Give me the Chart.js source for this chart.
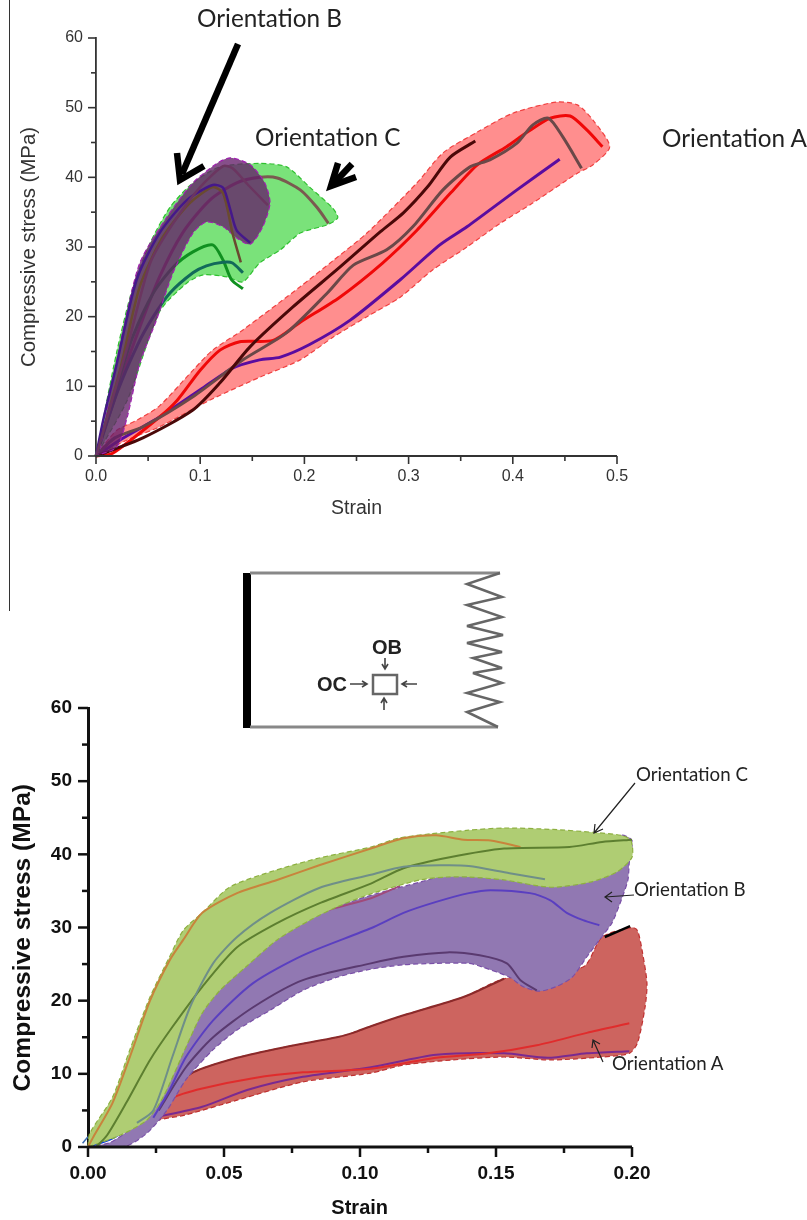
<!DOCTYPE html>
<html>
<head>
<meta charset="utf-8">
<title>Compressive stress vs strain</title>
<script src="https://cdn.jsdelivr.net/npm/chart.js@4"></script>
<style>
    html, body { margin: 0; padding: 0; background: #fff; }
    #page { position: relative; width: 807px; height: 1220px; overflow: hidden; }
    canvas { position: absolute; left: 0; }
    #topChart { top: 0; }
    #bottomChart { top: 640px; }
    #rule { position: absolute; left: 9px; top: 0; width: 1px; height: 611px; background: #333; }
    #marks { position: absolute; left: 0; top: 0; }
    .note { position: absolute; font-family: Lato, sans-serif; white-space: nowrap; color: #222; line-height: 1; }
    .big { font-size: 24.3px; }
    .small { font-size: 18.7px; }
</style>
</head>
<body>
<div id="page">
    <canvas id="topChart" width="807" height="560"></canvas>
    <canvas id="bottomChart" width="807" height="580"></canvas>
    <div id="rule"></div>
    <svg id="marks" width="807" height="1220">
        <!-- big arrows -->
        <g fill="none" stroke="#000" stroke-width="6.5">
            <path d="M238 44 L182 174" />
            <path d="M177 153 L180 180 L204 166" />
            <path d="M352 164 L336 181" />
            <path d="M338 163 L331 186 L356 177" />
        </g>
        <!-- thin arrows -->
        <g fill="none" stroke="#222" stroke-width="1.2">
            <path d="M635 783 L594 833 M595 824 L594 833 L603 829" />
            <path d="M634 895 L605 897 M612 892 L605 897 L612 902" />
            <path d="M603 1062 L593 1040 M592 1048 L593 1040 L600 1044" />
        </g>
        <!-- schematic -->
        <rect x="243" y="573" width="8" height="155" fill="#000" />
        <path d="M250 573 H500 M250 727 H498" stroke="#888" stroke-width="3" fill="none" />
        <polyline fill="none" stroke="#666" stroke-width="2.5" points="500,573 467,584 502,597 467,605 502,617 467,626 503,635 467,643 502,652 473,658 502,668 473,673 502,683 467,693 500,702 467,712 498,727" />
        <rect x="373" y="675" width="24" height="19" fill="none" stroke="#666" stroke-width="2.5" />
        <g fill="none" stroke="#444" stroke-width="1.6">
            <path d="M350 684 H366 M362 681 L367 684 L362 687" />
            <path d="M417 684 H403 M407 681 L402 684 L407 687" />
            <path d="M385 658 V668 M382 664 L385 669 L388 664" />
            <path d="M384 710 V699 M381 703 L384 698 L387 703" />
        </g>
        <text x="387" y="654" text-anchor="middle" font-family="Liberation Sans" font-weight="bold" font-size="20" fill="#222">OB</text>
        <text x="332" y="691" text-anchor="middle" font-family="Liberation Sans" font-weight="bold" font-size="20" fill="#222">OC</text>
    </svg>
    <div class="note big" style="left:197px;top:6px">Orientation B</div>
    <div class="note big" style="left:255px;top:125px">Orientation C</div>
    <div class="note big" style="left:662px;top:126px">Orientation A</div>
    <div class="note small" style="left:636px;top:765px">Orientation C</div>
    <div class="note small" style="left:634px;top:880px">Orientation B</div>
    <div class="note small" style="left:612px;top:1054px">Orientation A</div>
</div>
<script>
// upper plot, [strain, stress]
const topBandA = [[0,0],[.01,2],[.02,3.7],[.04,5.2],[.061,7.2],[.093,12.3],[.112,15.2],[.141,18.1],[.196,24.3],[.228,28.1],[.26,32],[.308,39.2],[.333,43.5],[.366,46.5],[.4,49.2],[.442,50.8],[.462,50.4],[.477,48.2],[.493,44.4],[.477,41.8],[.462,40.6],[.419,36.3],[.388,33.4],[.356,30],[.323,26.7],[.292,22.8],[.26,20],[.228,17.1],[.196,13.8],[.157,11.3],[.109,8],[.061,4.2],[.03,2.3],[0,0]];
const topBandC = [[0,0],[.02,15],[.035,24],[.052,30.6],[.071,35.7],[.093,39.2],[.119,41.5],[.157,42],[.183,41.5],[.205,38.6],[.227,35.6],[.232,34.2],[.222,33.2],[.196,32],[.177,29.6],[.157,27.7],[.141,25],[.126,25.7],[.103,26],[.087,24.8],[.061,20.7],[.03,8],[0,0]];
const topBandB = [[0,0],[.004,1.3],[.013,8.5],[.026,18],[.042,27.7],[.068,34.3],[.093,39.2],[.116,42],[.129,42.8],[.148,41.8],[.162,39.2],[.167,36.3],[.16,32.9],[.148,30.4],[.135,31.3],[.122,32.9],[.106,33.6],[.093,32],[.074,26.3],[.058,19.5],[.042,13.3],[.03,5.6],[.02,1.3],[0,0]];

const topA1 = [[0,0],[.016,.4],[.061,5.6],[.078,8],[.1,12.3],[.119,15.2],[.138,16.4],[.17,16.6],[.196,19.2],[.234,22.8],[.275,27.7],[.308,32.4],[.34,37.7],[.366,41.8],[.394,44.4],[.414,46.5],[.436,48.5],[.455,48.8],[.471,46.8],[.486,44.4]];
const topA2 = [[0,0],[.045,2.6],[.093,6.6],[.119,10.5],[.148,15.7],[.189,21.4],[.234,27.1],[.273,32.2],[.295,34.9],[.318,38.6],[.34,42.9],[.364,45.2]];
const topA3 = [[0,0],[.018,2.6],[.045,4.2],[.093,8.5],[.141,13.8],[.183,17.7],[.222,23.4],[.247,27.4],[.279,29.6],[.304,32.9],[.333,38.2],[.359,41.5],[.378,42.5],[.404,44.9],[.419,47.5],[.434,48.5],[.448,45.8],[.466,41.3]];
const topA4 = [[0,0],[.023,2.3],[.061,5.6],[.1,9.5],[.131,12.6],[.157,13.8],[.177,14.2],[.205,16],[.244,19.5],[.292,25.3],[.33,30.3],[.356,32.9],[.404,38.2],[.445,42.6]];

const topB1 = [[0,0],[.03,15.6],[.052,27.7],[.074,33.4],[.1,38.6],[.122,41.6],[.131,41.3],[.146,38.9],[.165,36]];
const topB2 = [[0,0],[.007,5.2],[.02,13.3],[.039,25.3],[.061,32],[.087,36.7],[.112,38.9],[.122,38.5],[.129,35.3],[.135,32.4],[.148,30.6]];
const topB3 = [[0,0],[.023,12.3],[.042,24.3],[.064,31.4],[.09,36.3],[.112,38.6],[.122,37.7],[.131,32],[.139,27.8]];

const topC1 = [[0,0],[.023,10.5],[.042,18.5],[.061,25.7],[.083,32],[.109,36.7],[.135,39.2],[.157,40],[.174,39.9],[.196,38.2],[.212,35.7],[.223,33.4]];
const topC2 = [[0,0],[.02,10],[.035,17],[.055,23.4],[.074,27.1],[.093,29.3],[.112,30.3],[.122,28.1],[.13,25.3],[.141,24]];
const topC3 = [[0,0],[.02,9],[.04,16],[.055,20],[.071,23.4],[.093,26.3],[.106,27.3],[.122,27.8],[.131,27.7],[.141,26.3]];

// lower plot, [strain, stress]
const lowBandA = [[.014,0],[.022,3.4],[.03,7.5],[.0386,10.2],[.0548,12.2],[.073,13.7],[.0915,15],[.0974,15.6],[.104,16.5],[.116,18],[.138,20.5],[.153,23],[.182,24.6],[.189,28.7],[.2,30],[.202,29.6],[.2037,26.9],[.2055,22.4],[.2048,19.1],[.202,14.2],[.199,12.8],[.189,12.3],[.17,11.9],[.153,12.3],[.134,11.9],[.116,11.2],[.104,10.1],[.079,8.9],[.0548,6.4],[.036,4.4],[.024,3.4],[.014,0]];
const lowBandB = [[0,0],[.008,.6],[.014,2],[.02,4],[.026,6.5],[.03,9.2],[.035,13.7],[.042,18.7],[.0485,21.9],[.0607,26.5],[.073,29.6],[.085,32],[.104,34.4],[.122,36.2],[.14,38],[.17,39],[.196,42.6],[.2,41.9],[.199,38.9],[.1985,36.5],[.196,33.7],[.1926,30.6],[.188,28.3],[.1834,26],[.178,23.2],[.172,21.9],[.166,21.3],[.16,21.9],[.155,23.2],[.145,24.6],[.14,25.1],[.128,25.1],[.116,24.9],[.104,24.3],[.0915,23.2],[.079,21.4],[.067,18.7],[.0548,16],[.046,13.3],[.036,9.2],[.029,5],[.0217,1.9],[.014,.1],[.003,0],[0,0]];
const lowBandC = [[0,0],[.0007,1.9],[.009,6.8],[.0154,13.3],[.0228,20.5],[.03,26],[.035,29.6],[.042,32],[.052,35.5],[.067,37.6],[.085,39.5],[.104,41],[.114,42.2],[.126,42.8],[.14,43.3],[.153,43.6],[.171,43.4],[.186,43],[.196,42.6],[.1996,41.9],[.2,39.6],[.1945,37.6],[.1846,36.2],[.17,35.5],[.153,36.5],[.14,36.9],[.132,36.9],[.122,36.5],[.104,34.6],[.0915,32.8],[.0816,31],[.0695,28.3],[.058,24.6],[.0485,21.4],[.042,18.3],[.035,12.8],[.0276,6.8],[.0217,3.7],[.0118,1.6],[0,0]];

const lowA1 = [[.014,0],[.022,3.4],[.03,7.5],[.0386,10.2],[.0548,12.2],[.073,13.7],[.0915,15],[.0974,15.6],[.104,16.5],[.116,18],[.138,20.5],[.153,23]];
const lowA1Tip = [[.19,28.7],[.1993,30.2]];
const lowA2 = [[.014,0],[.02,3.5],[.031,6.7],[.042,8],[.0607,9.4],[.079,10.2],[.104,10.7],[.128,12.2],[.147,12.8],[.165,13.9],[.1834,15.6],[.199,16.9]];
const lowA3 = [[.024,4],[.042,5.5],[.0585,7.8],[.079,9.6],[.104,10.9],[.128,12.6],[.153,12.8],[.169,12.2],[.1834,12.8],[.199,13.1]];

const lowB1 = [[.02,4],[.03,9.2],[.035,13.7],[.042,18.7],[.0485,21.9],[.0607,26.5],[.073,29.6],[.085,32],[.104,34],[.1147,35.7]];
const lowB2 = [[.024,4],[.03,7.8],[.036,12.3],[.046,17.3],[.0607,22.4],[.079,26.2],[.104,29.9],[.116,32],[.128,33.5],[.14,34.7],[.148,35.1],[.1625,34.7],[.17,33.7],[.176,32],[.182,31],[.188,30.3]];
const lowB3 = [[.026,5],[.036,10.9],[.046,15],[.0607,19.1],[.079,22.8],[.104,25.1],[.116,26],[.132,26.6],[.144,26.2],[.154,25.1],[.159,22.8],[.165,21.4]];

const lowC1 = [[0,0],[.002,1.4],[.009,6],[.0154,12.3],[.0228,20],[.03,25.5],[.035,28.3],[.042,32],[.0548,34.7],[.0695,36.5],[.085,38.5],[.104,40.8],[.116,42.2],[.128,42.6],[.138,42],[.148,41.9],[.159,41]];
const lowC2 = [[.003,0],[.007,1.6],[.014,6],[.0228,11.9],[.031,16.4],[.042,21.9],[.0548,27.3],[.0695,30.6],[.085,33.3],[.104,36],[.116,38.1],[.133,39.6],[.153,40.8],[.177,41],[.189,41.7],[.2,42]];
const lowC3 = [[.018,3.3],[.024,5],[.031,12.3],[.0375,19.1],[.046,25.1],[.0548,28.7],[.067,32],[.085,35.4],[.104,37.2],[.116,38.3],[.1305,38.5],[.14,38.4],[.155,37.4],[.168,36.6]];
const lowBlue = [[0,0],[.009,1.2],[.018,3.3]];
const lowBlueDash = [[-.002,.5],[0,1.4]];

function toXY(list) {
    return list.map(function (p) { return { x: p[0], y: p[1] }; });
}

function band(list, fillColor, edgeColor) {
    return {
        data: toXY(list),
        showLine: true,
        fill: "shape",
        backgroundColor: fillColor,
        borderColor: edgeColor,
        borderWidth: 1.2,
        borderDash: [5, 3],
        pointRadius: 0,
        tension: 0.25,
        clip: false,
    };
}

function curve(list, color, width) {
    return {
        data: toXY(list),
        showLine: true,
        fill: false,
        borderColor: color,
        borderWidth: width,
        pointRadius: 0,
        tension: 0.25,
        clip: false,
    };
}

// x axis line plus short and long tick marks, every second tick carries a label
const tickMarks = {
    id: "tickMarks",
    afterDraw: function (chart, args, opts) {
        const ctx = chart.ctx;
        const xScale = chart.scales.x;
        const yScale = chart.scales.y;
        const area = chart.chartArea;
        ctx.save();
        ctx.strokeStyle = opts.color;
        ctx.lineWidth = opts.width;
        xScale.ticks.forEach(function (t, i) {
            const px = xScale.getPixelForValue(t.value);
            ctx.beginPath();
            ctx.moveTo(px, area.bottom);
            ctx.lineTo(px, area.bottom + (i % 2 ? opts.minor : opts.major));
            ctx.stroke();
        });
        yScale.ticks.forEach(function (t, i) {
            const py = yScale.getPixelForValue(t.value);
            ctx.beginPath();
            ctx.moveTo(area.left, py);
            ctx.lineTo(area.left - (i % 2 ? opts.minor : opts.major), py);
            ctx.stroke();
        });
        ctx.lineWidth = opts.axisWidth;
        ctx.beginPath();
        ctx.moveTo(area.left, area.bottom);
        ctx.lineTo(xScale.getPixelForValue(opts.xEnd), area.bottom);
        ctx.stroke();
        ctx.restore();
    },
};

function makeOptions(cfg) {
    return {
        responsive: false,
        animation: false,
        layout: { padding: cfg.padding },
        plugins: {
            legend: { display: false },
            tooltip: { enabled: false },
            tickMarks: { color: cfg.color, width: cfg.tickWidth, axisWidth: cfg.axisWidth, major: cfg.major, minor: cfg.minor, xEnd: cfg.xEnd },
        },
        scales: {
            x: {
                type: "linear",
                min: 0,
                max: cfg.xMax,
                afterFit: function (s) { s.height = cfg.xHeight; },
                border: { display: false },
                grid: { drawOnChartArea: false, tickLength: cfg.major, tickColor: "rgba(0,0,0,0)" },
                ticks: {
                    stepSize: cfg.xStep,
                    includeBounds: false,
                    autoSkip: false,
                    maxRotation: 0,
                    padding: cfg.xPad,
                    color: cfg.color,
                    font: cfg.tickFont,
                    callback: function (v, i) { return i % 2 ? "" : v.toFixed(cfg.digits); },
                },
                title: { display: true, text: cfg.xTitle, color: cfg.color, font: cfg.xTitleFont, padding: 0 },
            },
            y: {
                type: "linear",
                min: 0,
                max: 60,
                afterFit: function (s) { s.width = cfg.yWidth; },
                border: { color: cfg.color, width: cfg.axisWidth },
                grid: { drawOnChartArea: false, tickLength: cfg.major, tickColor: "rgba(0,0,0,0)" },
                ticks: {
                    stepSize: 5,
                    autoSkip: false,
                    padding: cfg.yPad,
                    color: cfg.color,
                    font: cfg.tickFont,
                    callback: function (v, i) { return i % 2 ? "" : String(v); },
                },
                title: { display: true, text: cfg.yTitle, color: cfg.color, font: cfg.yTitleFont, padding: 0 },
            },
        },
    };
}

window.onload = function () {
    // first dataset in the list ends up on top
    new Chart(document.getElementById("topChart"), {
        type: "scatter",
        data: {
            datasets: [
                curve(topB1, "#6b3560", 2.5),
                curve(topB2, "#45188a", 2.5),
                curve(topB3, "#6a4a30", 2.5),
                band(topBandB, "rgba(100,30,105,0.78)", "#a020b0"),
                curve(topC3, "#126a5a", 3),
                curve(topC2, "#109020", 3),
                curve(topC1, "#7a5a50", 3),
                band(topBandC, "rgb(122,226,122)", "#30c030"),
                curve(topA2, "#4a0808", 3),
                curve(topA3, "#6a4848", 3),
                curve(topA1, "#f00808", 3),
                curve(topA4, "#5a0ca0", 3),
                band(topBandA, "rgba(255,60,60,0.58)", "#f04040"),
            ],
        },
        options: makeOptions({
            padding: { left: 17, right: 190, top: 38, bottom: 40 },
            xMax: 0.5, xEnd: 0.5, xStep: 0.05, digits: 1, xHeight: 64, yWidth: 79,
            xPad: 3, yPad: 5,
            xTitle: "Strain",
            yTitle: "Compressive stress (MPa)",
            color: "#333", axisWidth: 1.8, tickWidth: 1.6, major: 8, minor: 5,
            tickFont: { family: "Liberation Sans", size: 16 },
            xTitleFont: { family: "Liberation Sans", size: 19.5 },
            yTitleFont: { family: "Liberation Sans", size: 20.4 },
        }),
        plugins: [tickMarks],
    });

    // x scale runs past 0.20 so the red band is not cut at the plot edge,
    // the trailing spaces move the axis titles to where the original has them
    new Chart(document.getElementById("bottomChart"), {
        type: "scatter",
        data: {
            datasets: [
                curve(lowC3, "#6f8f88", 2),
                curve(lowC2, "#5d7f30", 2),
                curve(lowC1, "#c8843c", 2),
                band(lowBandC, "rgb(175,205,115)", "#8db040"),
                curve(lowB1, "#a04a7a", 2),
                curve(lowB2, "#5a3fc0", 2),
                curve(lowB3, "#5a3a70", 2),
                band(lowBandB, "rgb(145,120,178)", "#7a50a8"),
                curve(lowA1Tip, "#000", 2.5),
                curve(lowA1, "#8b2a2a", 2),
                curve(lowA2, "#e02c2c", 2),
                curve(lowA3, "#7a2a90", 2),
                curve(lowBlue, "#0a3ce0", 2.5),
                curve(lowBlueDash, "#3a6cb0", 1.5),
                band(lowBandA, "rgb(205,100,95)", "#c03030"),
            ],
        },
        options: makeOptions({
            padding: { left: 8, right: 147.8, top: 68, bottom: 0 },
            xMax: 0.21, xEnd: 0.2, xStep: 0.025, digits: 2, xHeight: 73, yWidth: 80,
            xPad: 5, yPad: 6,
            xTitle: "Strain\u00a0\u00a0\u00a0\u00a0\u00a0",
            yTitle: "Compressive stress (MPa)\u00a0\u00a0\u00a0",
            color: "#111", axisWidth: 3, tickWidth: 2.5, major: 10, minor: 6,
            tickFont: { family: "Liberation Sans", size: 19, weight: "bold" },
            xTitleFont: { family: "Liberation Sans", size: 20, weight: "bold" },
            yTitleFont: { family: "Liberation Sans", size: 24.6, weight: "bold" },
        }),
        plugins: [tickMarks],
    });
};
</script>
</body>
</html>
